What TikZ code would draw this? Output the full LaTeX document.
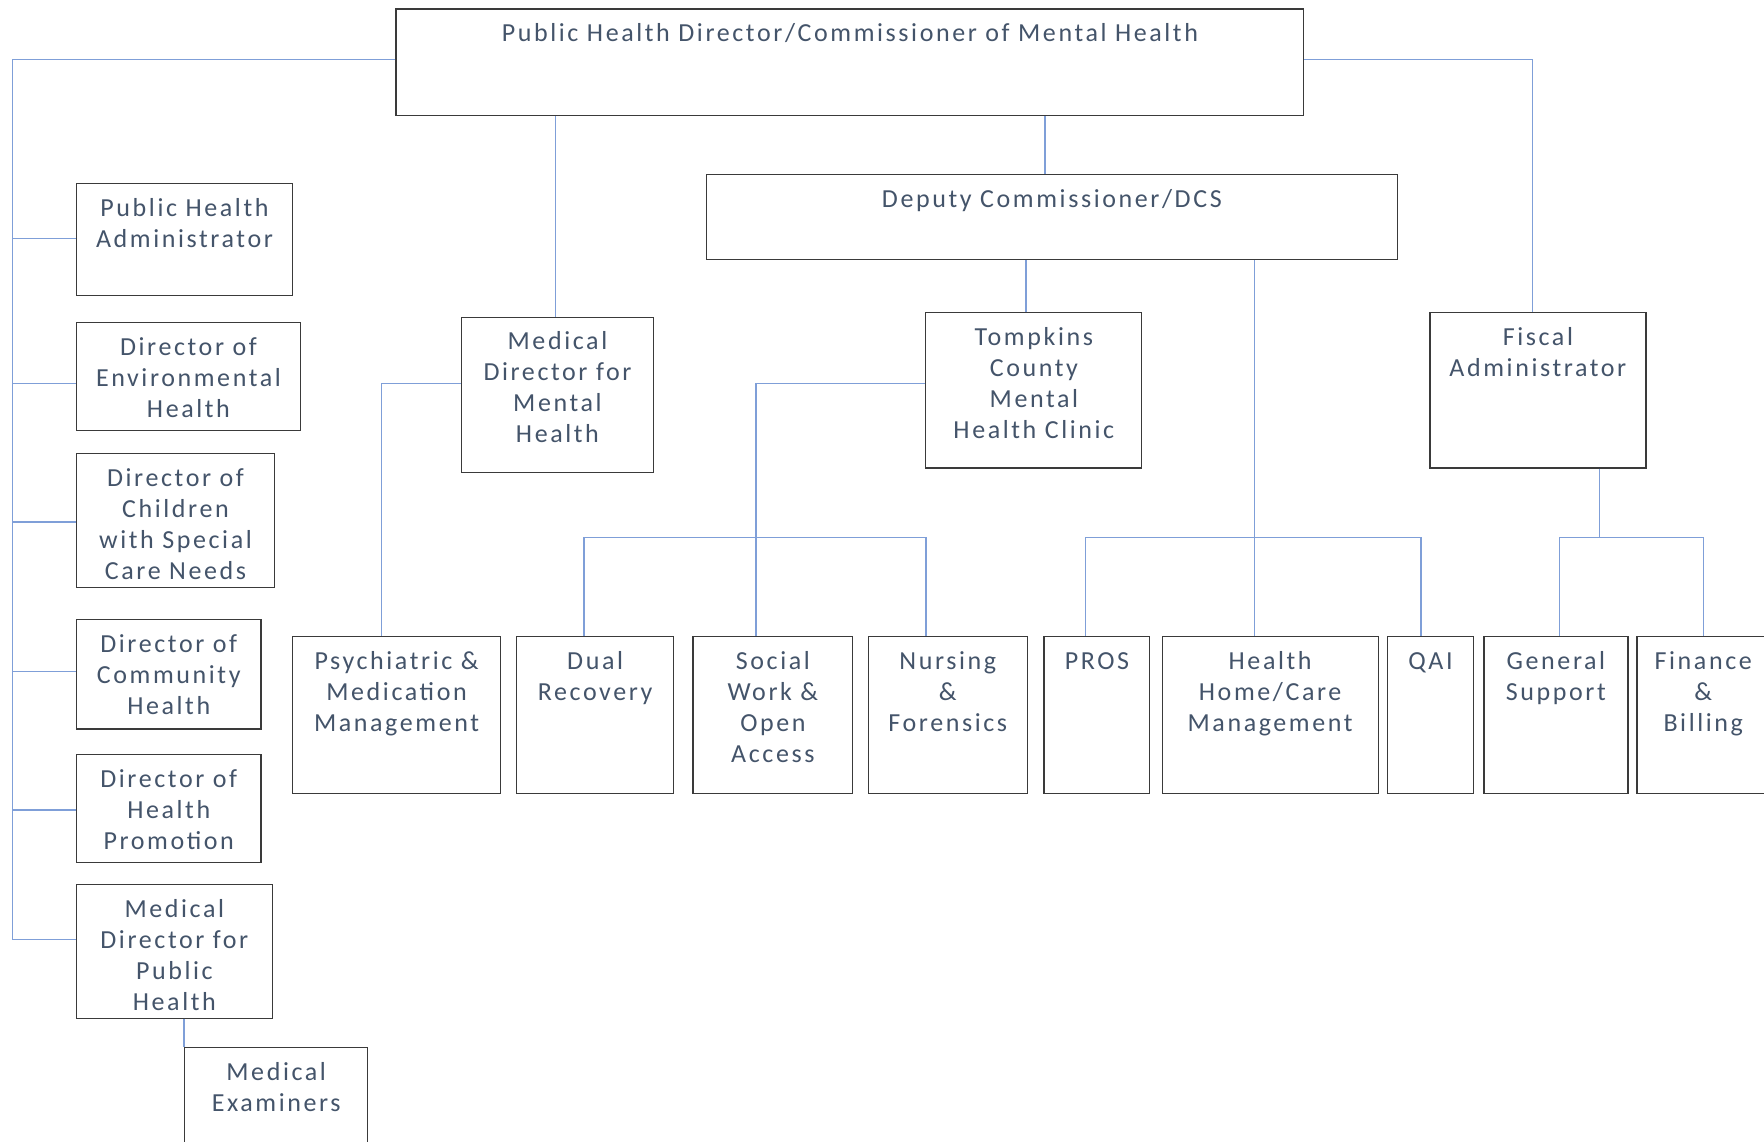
\documentclass[tikz,border=0pt]{standalone}
\usepackage{fontspec}
\setmainfont[LetterSpace=10]{Carlito}
\usetikzlibrary{fit,calc}
\definecolor{txtc}{HTML}{44546A}
\definecolor{linec}{HTML}{7F9FD8}
\definecolor{boxc}{HTML}{3A3A3A}
\newcommand\orgbox[6]{%
  \node[orgrect,fit={(#2,#3) (#4,#5)}] (#1) {};
  \node[lbl] (#1-t) at ($(#1.north)+(0,10)$) {\strut #6};}
\begin{document}
\begin{tikzpicture}[x=0.5625pt,y=-0.5625pt,
  orgrect/.style={draw=boxc,line width=0.6pt,inner sep=0pt},
  conn/.style={draw=linec,line width=0.7pt},
  lbl/.style={text=txtc,font=\fontsize{13}{15.5}\selectfont,align=center,inner sep=0pt,anchor=north}]
\useasboundingbox (0,0) rectangle (1568,1015);
\clip (0,0) rectangle (1568,1015);
\fill[white] (0,0) rectangle (1568,1015);

% boxes
\orgbox{top}{352}{8}{1159}{103}{Public Health Director/Commissioner of Mental Health}
\orgbox{dep}{628}{155}{1242}{231}{Deputy Commissioner/DCS}
\orgbox{pha}{68}{163}{260}{263}{Public Health\\Administrator}
\orgbox{env}{68}{287}{267}{383}{Director of\\Environmental\\Health}
\orgbox{chi}{68}{403}{244}{522}{Director of\\Children\\with Special\\Care Needs}
\orgbox{com}{68}{551}{232}{648}{Director of\\Community\\Health}
\orgbox{hp}{68}{671}{232}{767}{Director of\\Health\\Promotion}
\orgbox{mdph}{68}{786}{242}{905}{Medical\\Director for\\Public\\Health}
\orgbox{me}{164}{931}{327}{1040}{Medical\\Examiners}
\orgbox{mdmh}{410}{282}{581}{420}{Medical\\Director for\\Mental\\Health}
\orgbox{tcm}{823}{278}{1015}{416}{Tompkins\\County\\Mental\\Health Clinic}
\orgbox{fis}{1271}{278}{1463}{416}{Fiscal\\Administrator}
\orgbox{psy}{260}{566}{445}{705}{Psychiatric \&\\Medication\\Management}
\orgbox{dual}{459}{566}{599}{705}{Dual\\Recovery}
\orgbox{sw}{616}{566}{758}{705}{Social\\Work \&\\Open\\Access}
\orgbox{nur}{772}{566}{913}{705}{Nursing\\\&\\Forensics}
\orgbox{pros}{928}{566}{1022}{705}{PROS}
\orgbox{hh}{1033}{566}{1225}{705}{Health\\Home/Care\\Management}
\orgbox{qai}{1233}{566}{1310}{705}{QAI}
\orgbox{gs}{1319}{566}{1447}{705}{General\\Support}
\orgbox{fin}{1455}{566}{1573}{705}{Finance\\\&\\Billing}

% helper coordinates
\coordinate (yTop) at (0,53);
\coordinate (xL) at (11,0);
\coordinate (xF) at (1362,0);
\coordinate (yMid) at (0,341);
\coordinate (yBar) at (0,478);
\coordinate (tBarL) at (519,478);
\coordinate (tBarR) at (823,478);
\coordinate (dBarL) at (965,478);
\coordinate (dBarR) at (1263,478);
\coordinate (fBarL) at (1386,478);
\coordinate (fBarR) at (1514,478);
\coordinate (fBarM) at (1422,478);

% left spine
\draw[conn] (top.west |- yTop) -| (xL |- 0,835) -- (mdph.west |- 0,835);
\draw[conn] (xL |- 0,212) -- (pha.west |- 0,212);
\draw[conn] (xL |- 0,341) -- (env.west |- 0,341);
\draw[conn] (xL |- 0,464) -- (chi.west |- 0,464);
\draw[conn] (xL |- 0,597) -- (com.west |- 0,597);
\draw[conn] (xL |- 0,720) -- (hp.west |- 0,720);
\draw[conn] (mdph.south -| me.north west) -- (me.north west);

% right to fiscal
\draw[conn] (top.east |- yTop) -| (fis.north -| xF);

% top to MDMH and deputy
\draw[conn] (top.south -| 494,0) -- (mdmh.north -| 494,0);
\draw[conn] (top.south -| 929,0) -- (dep.north -| 929,0);

% MDMH to psychiatric
\draw[conn] (mdmh.west |- yMid) -| (psy.north -| 339,0);

% deputy to Tompkins
\draw[conn] (dep.south -| 912,0) -- (tcm.north -| 912,0);

% Tompkins to its units
\draw[conn] (tcm.west |- yMid) -| (sw.north -| 672,0);
\draw[conn] (dual.north -| tBarL) -- (tBarL) -- (tBarR) -- (nur.north -| tBarR);

% deputy to PROS/HH/QAI
\draw[conn] (dep.south -| 1115,0) -- (hh.north -| 1115,0);
\draw[conn] (pros.north -| dBarL) -- (dBarL) -- (dBarR) -- (qai.north -| dBarR);

% fiscal to units
\draw[conn] (fis.south -| fBarM) -- (fBarM);
\draw[conn] (gs.north -| fBarL) -- (fBarL) -- (fBarR) -- (fin.north -| fBarR);
\end{tikzpicture}
\end{document}
